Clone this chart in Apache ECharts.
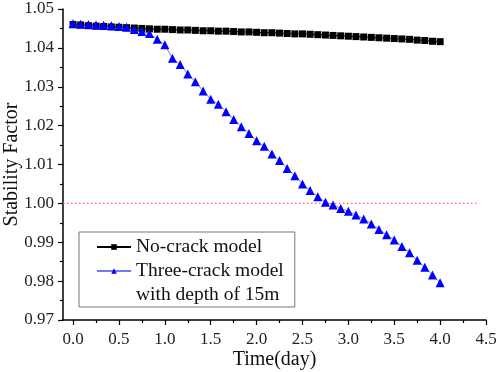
<!DOCTYPE html>
<html>
<head>
<meta charset="utf-8">
<script src="https://cdn.jsdelivr.net/npm/echarts@6/dist/echarts.min.js"></script>
<style>html,body{margin:0;padding:0;background:#fff}#c{width:498px;height:372px}</style>
</head>
<body>
<div id="c"></div>
<script>
// Time in days (every 2 hours)
var days = [0,0.083,0.167,0.25,0.333,0.417,0.5,0.583,0.667,0.75,0.833,0.917,1,1.083,1.167,1.25,1.333,1.417,1.5,1.583,1.667,1.75,1.833,1.917,2,2.083,2.167,2.25,2.333,2.417,2.5,2.583,2.667,2.75,2.833,2.917,3,3.083,3.167,3.25,3.333,3.417,3.5,3.583,3.667,3.75,3.833,3.917,4];
var noCrack = [1.0460,1.0459,1.0457,1.0456,1.0455,1.0454,1.0453,1.0452,1.0451,1.0450,1.0449,1.0448,1.0448,1.0447,1.0446,1.0446,1.0445,1.0444,1.0444,1.0443,1.0443,1.0442,1.0441,1.0441,1.0440,1.0439,1.0439,1.0438,1.0437,1.0436,1.0436,1.0435,1.0434,1.0433,1.0432,1.0431,1.0430,1.0429,1.0428,1.0427,1.0426,1.0425,1.0424,1.0423,1.0422,1.0420,1.0419,1.0417,1.0416];
var threeCrack = [1.0462,1.0461,1.0460,1.0459,1.0458,1.0457,1.0455,1.0453,1.0447,1.0442,1.0437,1.0422,1.0408,1.0373,1.0357,1.0333,1.0313,1.0289,1.0268,1.0255,1.0236,1.0216,1.0197,1.0180,1.0161,1.0147,1.0127,1.0110,1.0090,1.0071,1.0050,1.0033,1.0017,1.0003,0.9996,0.9987,0.9980,0.9970,0.9960,0.9947,0.9933,0.9919,0.9906,0.9889,0.9873,0.9854,0.9836,0.9816,0.9796];
var refX = [-0.11, 4.4];
var refY = 1.00;
var xMajor = [0,0.5,1,1.5,2,2.5,3,3.5,4,4.5];
var xMinor = [0.25,0.75,1.25,1.75,2.25,2.75,3.25,3.75,4.25];
var seriesNames = ['No-crack model', 'Three-crack model'];
var legendLabels = {'No-crack model': 'No-crack model', 'Three-crack model': '\nThree-crack model\nwith depth of 15m'};

function pairs(xs, ys){ return xs.map(function(x,i){ return [x, ys[i]]; }); }

var font = 'Liberation Serif';
var chart = echarts.init(document.getElementById('c'));
chart.setOption({
  animation: false,
  backgroundColor: '#fff',
  grid: {left: 63, right: 12, top: 9, bottom: 52, containLabel: false, outerBoundsMode: 'none'},
  legend: {
    orient: 'vertical', left: 79, top: 232,
    data: seriesNames,
    borderColor: '#777', borderWidth: 1, borderRadius: 0,
    padding: [3, 11, 0, 17],
    itemGap: -24, itemWidth: 34, itemHeight: 7,
    formatter: function(n){ return legendLabels[n]; },
    textStyle: {fontFamily: font, fontSize: 19.5, color: '#111', lineHeight: 24}
  },
  xAxis: [{
    type: 'value', min: -0.11, max: 4.5,
    name: 'Time(day)', nameLocation: 'middle', nameGap: 30, nameMoveOverlap: false,
    nameTextStyle: {fontFamily: font, fontSize: 20, color: '#111'},
    axisLine: {show: true, onZero: false, lineStyle: {color: '#000', width: 1.5}},
    axisTick: {show: true, length: 5, customValues: xMajor, lineStyle: {color: '#000', width: 1.2}},
    axisLabel: {customValues: xMajor, margin: 11, fontFamily: font, fontSize: 17, color: '#222',
      formatter: function(v){ return v.toFixed(1); }},
    splitLine: {show: false}
  }, {
    type: 'value', min: -0.11, max: 4.5, position: 'bottom',
    axisLine: {show: false, onZero: false},
    axisTick: {show: true, length: 3, customValues: xMinor, lineStyle: {color: '#000', width: 1.2}},
    axisLabel: {show: false},
    splitLine: {show: false}
  }],
  yAxis: {
    type: 'value', min: 0.97, max: 1.05, interval: 0.01,
    name: 'Stability Factor', nameLocation: 'middle', nameGap: 41, nameMoveOverlap: false,
    nameTextStyle: {fontFamily: font, fontSize: 20, color: '#111'},
    axisLine: {show: true, onZero: false, lineStyle: {color: '#000', width: 1.5}},
    axisTick: {show: true, length: 5, lineStyle: {color: '#000', width: 1.2}},
    minorTick: {show: true, splitNumber: 2, length: 3, lineStyle: {color: '#000', width: 1.2}},
    axisLabel: {margin: 9, fontFamily: font, fontSize: 17, color: '#222',
      formatter: function(v){ return v.toFixed(2); }},
    splitLine: {show: false}
  },
  series: [{
    name: 'ref', type: 'line', data: pairs(refX, [refY, refY]),
    symbol: 'none', silent: true,
    itemStyle: {color: '#ff6666'},
    lineStyle: {color: '#ff6666', width: 1.2, type: [1.5, 2.5], opacity: 1}
  }, {
    name: seriesNames[0], type: 'line', data: pairs(days, noCrack),
    symbol: 'rect', symbolSize: 7,
    itemStyle: {color: '#000'}, lineStyle: {color: '#000', width: 1}
  }, {
    name: seriesNames[1], type: 'line', data: pairs(days, threeCrack),
    symbol: 'triangle', symbolSize: 9,
    itemStyle: {color: '#0000ff'}, lineStyle: {color: '#7878f0', width: 1}
  }]
});
</script>
</body>
</html>
